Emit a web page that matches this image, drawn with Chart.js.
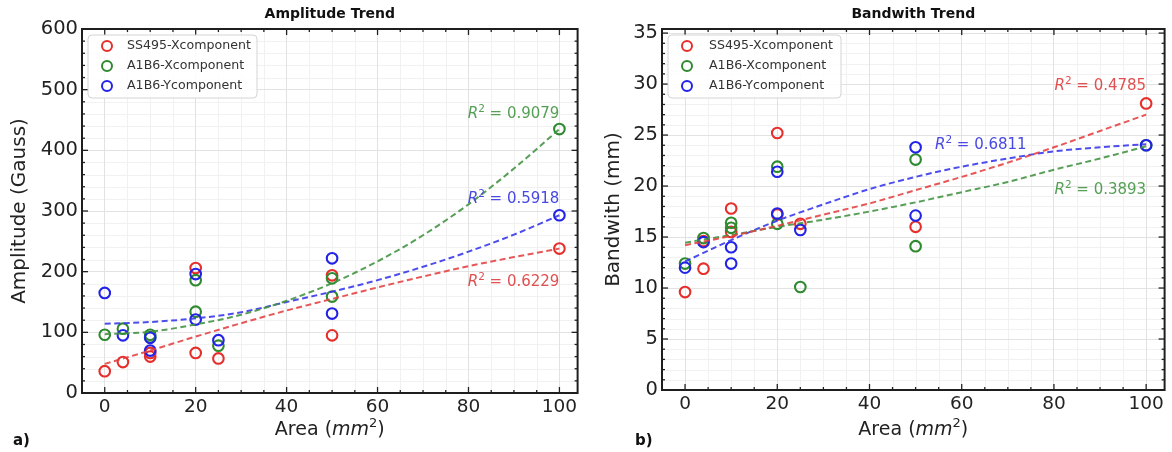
<!DOCTYPE html>
<html><head><meta charset="utf-8">
<script src="https://cdn.jsdelivr.net/npm/chart.js@4.4.1/dist/chart.umd.min.js"></script>
<style>
html,body{margin:0;padding:0;background:#fff;}
#wrap{position:relative;width:1172px;height:452px;overflow:hidden;background:#fff;}
.pane{position:absolute;top:0;height:452px;}
</style></head><body>
<div id="wrap">
<div class="pane" style="left:0;width:585px"><canvas id="ca" width="585" height="452"></canvas></div>
<div class="pane" style="left:585px;width:587px"><canvas id="cb" width="587" height="452"></canvas></div>
</div>
<script>
// ---------- data ----------
const seriesNames = ['SS495-Xcomponent', 'A1B6-Xcomponent', 'A1B6-Ycomponent'];
const xTickValues = [0, 20, 40, 60, 80, 100];
const ampYTickValues = [0, 100, 200, 300, 400, 500, 600];
const bwYTickValues = [0, 5, 10, 15, 20, 25, 30, 35];

// Amplitude panel (a)
const ampSS495X_area = [0, 4, 10, 10, 20, 20, 25, 50, 50, 100];
const ampSS495X_val  = [36, 51, 60, 66, 206, 66, 57, 194, 95, 238];
const ampA1B6X_area  = [0, 4, 10, 10, 20, 20, 25, 50, 50, 100];
const ampA1B6X_val   = [96, 106, 96, 92, 186, 134, 78, 189, 159, 435];
const ampA1B6Y_area  = [0, 4, 10, 10, 20, 20, 25, 50, 50, 100];
const ampA1B6Y_val   = [165, 95, 91, 70, 196, 121, 87, 222, 131, 293];

// Bandwidth panel (b)
const bwSS495X_area = [0, 4, 4, 10, 10, 20, 20, 25, 50, 100];
const bwSS495X_val  = [9.6, 11.9, 14.6, 17.8, 15.5, 25.2, 17.2, 16.3, 16.0, 28.1];
const bwA1B6X_area  = [0, 4, 10, 10, 20, 20, 25, 50, 50, 100];
const bwA1B6X_val   = [12.4, 14.9, 16.4, 15.9, 21.9, 16.3, 10.1, 22.6, 14.1, 24.0];
const bwA1B6Y_area  = [0, 4, 10, 10, 20, 20, 25, 50, 50, 100];
const bwA1B6Y_val   = [12.0, 14.5, 14.0, 12.4, 21.4, 17.3, 15.7, 23.8, 17.1, 24.0];

// Trend lines
const trendArea = [0, 10, 20, 30, 40, 50, 60, 70, 80, 90, 100];
const ampTrendSS495X = [48, 70, 93, 115, 136, 155, 174, 192, 209, 224, 238];
const ampTrendA1B6X  = [97, 101, 113, 129, 152, 181, 217, 260, 311, 370, 435];
const ampTrendA1B6Y  = [114, 117, 123, 133, 150, 167, 186, 208, 233, 261, 293];
const bwTrendSS495X  = [14.2, 15.1, 16.1, 17.2, 18.3, 19.6, 20.9, 22.3, 23.8, 25.4, 27.0];
const bwTrendA1B6X   = [14.45, 15.2, 16.0, 16.7, 17.5, 18.4, 19.4, 20.4, 21.6, 22.7, 23.9];
const bwTrendA1B6Y   = [12.6, 14.7, 16.6, 18.2, 19.7, 20.9, 21.9, 22.7, 23.4, 23.8, 24.1];

const ampR2 = ['0.6229', '0.9079', '0.5918'];
const bwR2  = ['0.4785', '0.3893', '0.6811'];

// ---------- styles ----------
const FONT = 'DejaVu Sans';
const pointColors = ['#e62e2a', '#2f8a2f', '#2222e8'];
const lineColors  = ['rgba(228,64,64,0.88)', 'rgba(64,145,64,0.88)', 'rgba(52,52,235,0.88)'];
const labelColors = ['#e05050', '#55a055', '#4848e4'];

function pts(xs, ys) { return xs.map((x, i) => ({x: x, y: ys[i]})); }

function roundRectPath(ctx, x, y, w, h, r) {
  ctx.beginPath();
  ctx.moveTo(x + r, y);
  ctx.lineTo(x + w - r, y); ctx.quadraticCurveTo(x + w, y, x + w, y + r);
  ctx.lineTo(x + w, y + h - r); ctx.quadraticCurveTo(x + w, y + h, x + w - r, y + h);
  ctx.lineTo(x + r, y + h); ctx.quadraticCurveTo(x, y + h, x, y + h - r);
  ctx.lineTo(x, y + r); ctx.quadraticCurveTo(x, y, x + r, y);
  ctx.closePath();
}

function drawRich(ctx, runs, x, y, align) {
  let w = 0;
  runs.forEach(r => { ctx.font = r.font; r.w = ctx.measureText(r.t).width; w += r.w; });
  let cx = align === 'right' ? x - w : (align === 'center' ? x - w / 2 : x);
  ctx.textAlign = 'left';
  ctx.textBaseline = 'middle';
  runs.forEach(r => { ctx.font = r.font; ctx.fillText(r.t, cx, y + (r.dy || 0)); cx += r.w; });
}

function makeChart(id, cfg) {
  const datasets = [];
  const trends = cfg.trends;
  for (let i = 0; i < 3; i++) {
    datasets.push({
      label: seriesNames[i] + ' fit',
      data: pts(trendArea, trends[i]),
      showLine: true, pointRadius: 0, borderColor: lineColors[i],
      borderWidth: 2, borderDash: [6, 3.5], cubicInterpolationMode: 'monotone',
      fill: false, order: 0
    });
  }
  for (let i = 0; i < 3; i++) {
    datasets.push({
      label: seriesNames[i],
      data: pts(cfg.xs[i], cfg.ys[i]),
      showLine: false, pointRadius: 5.3, pointHoverRadius: 5.3,
      pointBorderWidth: 2.1, pointBorderColor: pointColors[i],
      pointBackgroundColor: 'rgba(0,0,0,0)', borderColor: pointColors[i],
      backgroundColor: 'rgba(0,0,0,0)', order: 3 - i
    });
  }

  const deco = {
    id: 'deco',
    beforeDraw(chart) {
      const ctx = chart.ctx, a = chart.chartArea, sx = chart.scales.x, sy = chart.scales.y;
      ctx.save();
      ctx.fillStyle = '#fff';
      ctx.fillRect(0, 0, chart.width, chart.height);
      // minor grid
      ctx.strokeStyle = '#f1f1f1';
      ctx.lineWidth = 1;
      for (let v = 5; v < 104; v += 5) {
        if (v % 20 === 0) continue;
        const px = Math.round(sx.getPixelForValue(v)) + 0.5;
        ctx.beginPath(); ctx.moveTo(px, a.top); ctx.lineTo(px, a.bottom); ctx.stroke();
      }
      for (let v = cfg.yMinor; v < cfg.yMax; v += cfg.yMinor) {
        if (Math.abs((v / cfg.yMajor) - Math.round(v / cfg.yMajor)) < 1e-6) continue;
        const py = Math.round(sy.getPixelForValue(v)) + 0.5;
        ctx.beginPath(); ctx.moveTo(a.left, py); ctx.lineTo(a.right, py); ctx.stroke();
      }
      ctx.restore();
    },
    afterDraw(chart) {
      const ctx = chart.ctx, a = chart.chartArea, sx = chart.scales.x, sy = chart.scales.y;
      ctx.save();
      // inward ticks
      ctx.strokeStyle = '#222';
      ctx.lineWidth = 1.3;
      const tick = (x1, y1, x2, y2) => { ctx.beginPath(); ctx.moveTo(x1, y1); ctx.lineTo(x2, y2); ctx.stroke(); };
      for (let v = 0; v < 104; v += 5) {
        const px = sx.getPixelForValue(v);
        const L = (v % 20 === 0) ? 6 : 3;
        tick(px, a.bottom, px, a.bottom - L);
        tick(px, a.top, px, a.top + L);
      }
      for (let v = 0; v <= cfg.yMax + 1e-6; v += cfg.yMinor) {
        const py = sy.getPixelForValue(v);
        const isMaj = Math.abs((v / cfg.yMajor) - Math.round(v / cfg.yMajor)) < 1e-6;
        const L = isMaj ? 6 : 3;
        tick(a.left, py, a.left + L, py);
        tick(a.right, py, a.right - L, py);
      }
      // frame
      ctx.strokeStyle = '#1e1e1e';
      ctx.lineWidth = 2;
      ctx.strokeRect(a.left, a.top, a.right - a.left, a.bottom - a.top);

      // legend
      const lx = a.left + 6, ly = a.top + 6;
      roundRectPath(ctx, lx, ly, cfg.legendW, 63, 4);
      ctx.fillStyle = 'rgba(255,255,255,0.85)';
      ctx.fill();
      ctx.strokeStyle = '#d4d4d4';
      ctx.lineWidth = 1;
      ctx.stroke();
      for (let i = 0; i < 3; i++) {
        const cy = a.top + 17 + i * 20;
        ctx.beginPath();
        ctx.arc(a.left + 25, cy, 5, 0, Math.PI * 2);
        ctx.strokeStyle = pointColors[i];
        ctx.lineWidth = 2;
        ctx.stroke();
        ctx.fillStyle = '#333';
        ctx.font = '12.6px ' + FONT;
        ctx.textAlign = 'left';
        ctx.textBaseline = 'middle';
        ctx.fillText(seriesNames[i], a.left + cfg.legendTextDx, cy);
      }

      // R^2 labels
      cfg.r2.forEach((lab, i) => {
        ctx.fillStyle = labelColors[i];
        drawRich(ctx, [
          {t: 'R', font: 'italic 15px ' + FONT},
          {t: '2', font: '10.5px ' + FONT, dy: -5},
          {t: ' = ' + lab.text, font: '15px ' + FONT}
        ], sx.getPixelForValue(lab.x), sy.getPixelForValue(lab.y), lab.align);
      });

      // chart title
      ctx.fillStyle = '#111';
      ctx.font = 'bold 14px ' + FONT;
      ctx.textAlign = 'center';
      ctx.textBaseline = 'middle';
      ctx.fillText(cfg.title, (a.left + a.right) / 2, 14);

      // x axis title with italic unit and superscript
      ctx.fillStyle = '#222';
      drawRich(ctx, [
        {t: 'Area (', font: '19px ' + FONT},
        {t: 'mm', font: 'italic 19px ' + FONT},
        {t: '2', font: '13px ' + FONT, dy: -6},
        {t: ')', font: '19px ' + FONT}
      ], (a.left + a.right) / 2, 430, 'center');

      // panel label
      ctx.fillStyle = '#111';
      ctx.font = 'bold 15px ' + FONT;
      ctx.textAlign = 'left';
      ctx.textBaseline = 'middle';
      ctx.fillText(cfg.panel, cfg.panelX, 441);
      ctx.restore();
    }
  };

  return new Chart(document.getElementById(id), {
    type: 'scatter',
    data: {datasets: datasets},
    options: {
      responsive: false, animation: false, devicePixelRatio: 1, events: [],
      layout: {padding: {left: 0, right: cfg.padRight, top: 29, bottom: 0}},
      plugins: {legend: {display: false}, tooltip: {enabled: false}, title: {display: false}},
      scales: {
        x: {
          type: 'linear', min: -5, max: 104,
          afterBuildTicks: s => { s.ticks = xTickValues.map(v => ({value: v})); },
          afterFit: s => { s.height = cfg.xAxisH; },
          grid: {color: '#e2e2e2', lineWidth: 1, drawTicks: false},
          border: {display: false},
          ticks: {font: {family: FONT, size: 18.5}, color: '#222', padding: 3, maxRotation: 0, autoSkip: false}
        },
        y: {
          type: 'linear', min: 0, max: cfg.yMax,
          afterBuildTicks: s => { s.ticks = cfg.yTicks.map(v => ({value: v})); },
          afterFit: s => { s.width = cfg.yAxisW; },
          grid: {color: '#e2e2e2', lineWidth: 1, drawTicks: false},
          border: {display: false},
          ticks: {font: {family: FONT, size: 19.5}, color: '#222', padding: 4, autoSkip: false},
          title: {display: true, text: cfg.yTitle, font: {family: FONT, size: 20}, color: '#222',
                  padding: {top: cfg.yTitlePad, bottom: 0}}
        }
      }
    },
    plugins: [deco]
  });
}

makeChart('ca', {
  xs: [ampSS495X_area, ampA1B6X_area, ampA1B6Y_area],
  ys: [ampSS495X_val, ampA1B6X_val, ampA1B6Y_val],
  trends: [ampTrendSS495X, ampTrendA1B6X, ampTrendA1B6Y],
  yMax: 600, yMajor: 100, yMinor: 20, yTicks: ampYTickValues,
  padRight: 7, yAxisW: 82, xAxisH: 59, yTitlePad: 8,
  yTitle: 'Amplitude (Gauss)', title: 'Amplitude Trend', panel: 'a)', panelX: 13,
  legendW: 169, legendTextDx: 45,
  r2: [
    {text: ampR2[0], x: 100, y: 183, align: 'right'},
    {text: ampR2[1], x: 100, y: 459, align: 'right'},
    {text: ampR2[2], x: 100, y: 320, align: 'right'}
  ]
});

makeChart('cb', {
  xs: [bwSS495X_area, bwA1B6X_area, bwA1B6Y_area],
  ys: [bwSS495X_val, bwA1B6X_val, bwA1B6Y_val],
  trends: [bwTrendSS495X, bwTrendA1B6X, bwTrendA1B6Y],
  yMax: 35.4, yMajor: 5, yMinor: 1, yTicks: bwYTickValues,
  padRight: 4, yAxisW: 77, xAxisH: 62, yTitlePad: 17,
  yTitle: 'Bandwith (mm)', title: 'Bandwith Trend', panel: 'b)', panelX: 50,
  legendW: 173, legendTextDx: 47,
  r2: [
    {text: bwR2[0], x: 100, y: 29.8, align: 'right'},
    {text: bwR2[1], x: 100, y: 19.6, align: 'right'},
    {text: bwR2[2], x: 54.2, y: 24.0, align: 'left'}
  ]
});
</script>
</body></html>
